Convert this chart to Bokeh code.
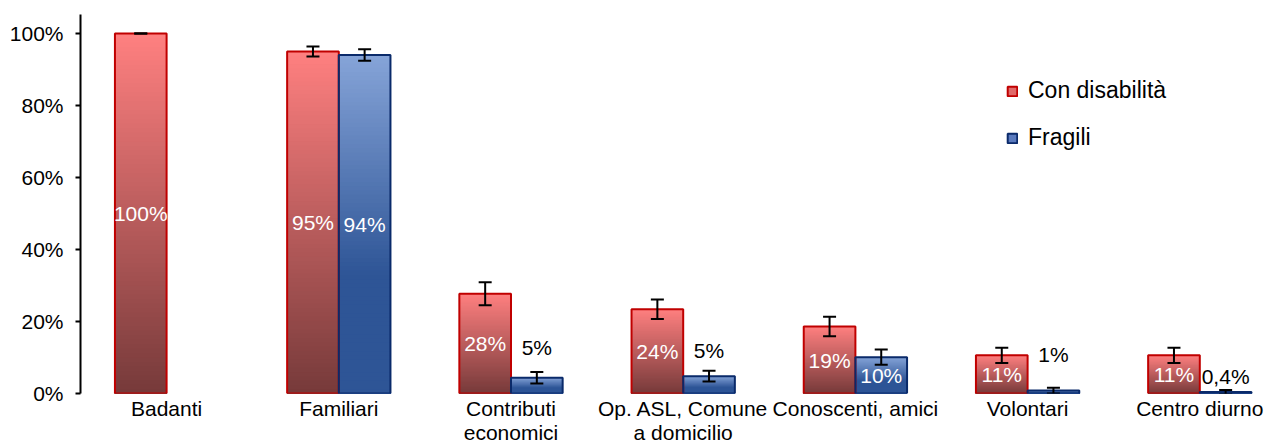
import numpy as np
from bokeh.plotting import figure
from bokeh.models import (ColumnDataSource, Range1d, FixedTicker, Whisker, TeeHead,
                          LabelSet, Legend, LegendItem)
from bokeh.core.properties import value
from bokeh.embed import file_html
from bokeh.resources import INLINE

# ---------------- data ----------------
categories = ["Badanti", "Familiari", "Contributi\neconomici", "Op. ASL, Comune\na domicilio",
              "Conoscenti, amici", "Volontari", "Centro diurno"]
disab = [100, 95, 27.7, 23.4, 18.6, 10.6, 10.6]
disab_err = [0, 1.4, 3.2, 2.7, 2.7, 2.1, 2.1]
disab_labels = ["100%", "95%", "28%", "24%", "19%", "11%", "11%"]
fragili = [None, 94, 4.4, 4.8, 10.1, 0.8, 0.4]
fragili_err = [None, 1.6, 1.6, 1.5, 2.1, 0.8, 0.6]
fragili_labels = ["", "94%", "5%", "5%", "10%", "1%", "0,4%"]
y_ticks = [0, 20, 40, 60, 80, 100]

# ---------------- styles ----------------
FONT = "Liberation Sans"
FS = "21px"
BAR_W = 0.3
RED_TOP, RED_BOT = (255, 128, 128), (118, 58, 58)
BLUE_TOP, BLUE_BOT = (134, 164, 216), (46, 85, 150)
RED_LINE, BLUE_LINE = "#C00000", "#0A2A6A"
fragili_inside = [False, True, False, False, True, False, False]
fragili_offset = [0, 0, 24, 20, 0, 33, 13]

p = figure(frame_width=1190, frame_height=379, output_backend="svg", toolbar_location=None,
           x_range=Range1d(-0.5, -0.5 + 1190 / 172.2), y_range=Range1d(0, 379 / 3.6),
           min_border_left=80, min_border_right=0, min_border_top=14, min_border_bottom=0)
p.outline_line_color = None
p.grid.visible = False


def lerp(c0, c1, t):
    return "#%02x%02x%02x" % tuple(int(round(a + (b - a) * t)) for a, b in zip(c0, c1))


def gradient(lefts, rights, vals, top_c, bot_c, knee=0.0, N=80):
    # nested quads drawn tallest first, so each band overwrites the one above: no seams
    L, R, B, T, C = [], [], [], [], []
    for l, r, v in zip(lefts, rights, vals):
        if v is None:
            continue
        for k in range(N - 1, -1, -1):
            frac = (k + 0.5) / N
            t = max(0.0, (frac - knee) / (1 - knee))
            L.append(l); R.append(r)
            B.append(0); T.append(v * (k + 1) / N)
            C.append(lerp(bot_c, top_c, t))
    return ColumnDataSource(dict(left=L, right=R, bottom=B, top=T, color=C))


idx = np.arange(len(categories))
red_left = idx - BAR_W
red_right = idx
blue_left = idx
blue_right = idx + BAR_W

src_r = gradient(red_left, red_right, disab, RED_TOP, RED_BOT)
src_b = gradient(blue_left, blue_right, fragili, BLUE_TOP, BLUE_BOT, knee=0.35)
p.quad(left="left", right="right", bottom="bottom", top="top", source=src_r,
       fill_color="color", line_color=None)
p.quad(left="left", right="right", bottom="bottom", top="top", source=src_b,
       fill_color="color", line_color=None)

# outlines
p.quad(left=red_left, right=red_right, bottom=0, top=disab, fill_alpha=0,
       line_color=RED_LINE, line_width=2)
bi = [i for i, v in enumerate(fragili) if v is not None]
p.quad(left=[blue_left[i] for i in bi], right=[blue_right[i] for i in bi], bottom=0,
       top=[fragili[i] for i in bi], fill_alpha=0, line_color=BLUE_LINE, line_width=2)


# error bars
def whisk(xs, vals, errs):
    s = ColumnDataSource(dict(x=list(xs), lo=[v - e for v, e in zip(vals, errs)],
                              hi=[v + e for v, e in zip(vals, errs)]))
    w = Whisker(source=s, base="x", upper="hi", lower="lo", dimension="height",
                line_color="black", line_width=2, level="overlay",
                upper_head=TeeHead(size=13, line_width=2, line_color="black"),
                lower_head=TeeHead(size=13, line_width=2, line_color="black"))
    p.add_layout(w)


whisk(idx - BAR_W / 2, disab, disab_err)
whisk([idx[i] + BAR_W / 2 for i in bi], [fragili[i] for i in bi], [fragili_err[i] for i in bi])

# value labels
src_rl = ColumnDataSource(dict(x=idx - BAR_W / 2, y=[v / 2 for v in disab], t=disab_labels))
p.add_layout(LabelSet(x="x", y="y", text="t", source=src_rl, text_color="white",
                      text_font=value(FONT), text_font_size=FS, text_align="center",
                      text_baseline="middle"))
bx, by, bt, bo, bc = [], [], [], [], []
for i in bi:
    bx.append(idx[i] + BAR_W / 2)
    bt.append(fragili_labels[i])
    if fragili_inside[i]:
        by.append(fragili[i] / 2); bo.append(0); bc.append("white")
    else:
        by.append(fragili[i] + fragili_err[i]); bo.append(fragili_offset[i]); bc.append("black")
src_bl = ColumnDataSource(dict(x=bx, y=by, t=bt, o=bo, c=bc))
p.add_layout(LabelSet(x="x", y="y", text="t", y_offset="o", source=src_bl, text_color="c",
                      text_font=value(FONT), text_font_size=FS, text_align="center",
                      text_baseline="middle"))

# x axis: category names
p.xaxis.ticker = FixedTicker(ticks=list(idx))
p.xaxis.major_label_overrides = {int(i): c for i, c in zip(idx, categories)}
p.xaxis.axis_line_color = None
p.xaxis.major_tick_line_color = None
p.xaxis.minor_tick_line_color = None
p.xaxis.major_tick_in = 0
p.xaxis.major_tick_out = 0
p.xaxis.major_label_standoff = 3
p.xaxis.major_label_text_font = FONT
p.xaxis.major_label_text_font_size = FS
p.xaxis.major_label_text_color = "black"
p.xaxis.major_label_text_line_height = 1.05

# y axis
p.yaxis.ticker = FixedTicker(ticks=y_ticks)
p.yaxis.major_label_overrides = {t: f"{t}%" for t in y_ticks}
p.yaxis.minor_tick_line_color = None
p.yaxis.major_tick_in = 0
p.yaxis.major_tick_out = 5
p.yaxis.major_tick_line_width = 2
p.yaxis.axis_line_width = 2
p.yaxis.major_label_standoff = 12
p.yaxis.major_label_text_font = FONT
p.yaxis.major_label_text_font_size = FS
p.yaxis.major_label_text_color = "black"

# legend (keys drawn from zero-size quads)
lr = p.quad(left=[0], right=[0], bottom=[0], top=[0], fill_color="#E06A6A",
            line_color=RED_LINE, line_width=2)
lb = p.quad(left=[0], right=[0], bottom=[0], top=[0], fill_color="#5A7ABE",
            line_color=BLUE_LINE, line_width=2)
legend = Legend(items=[LegendItem(label="Con disabilità", renderers=[lr]),
                       LegendItem(label="Fragili", renderers=[lb])],
                location=(926, 242), glyph_width=12, glyph_height=12, label_height=24,
                spacing=20, padding=0, margin=0, label_standoff=10,
                label_text_font=FONT, label_text_font_size="23px", label_text_color="black",
                border_line_alpha=0, background_fill_alpha=0)
p.add_layout(legend)

open("out.html", "w").write(file_html(p, INLINE))
